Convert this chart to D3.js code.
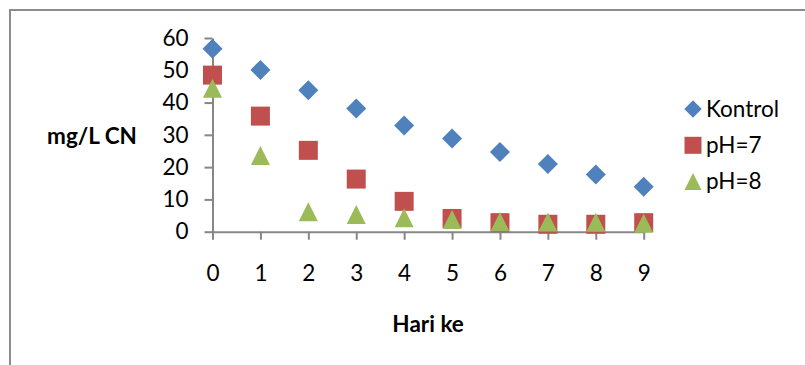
<!DOCTYPE html>
<html>
<head>
<meta charset="utf-8">
<script src="https://cdn.jsdelivr.net/npm/d3@7"></script>
<style>
  html, body { margin: 0; padding: 0; background: #fff; }
  svg { display: block; font-family: Lato, "Open Sans", sans-serif; }
</style>
</head>
<body>
<svg id="chart" width="805" height="365"></svg>
<script>
// Cyanide concentration (mg/L CN) per day for each treatment
const days = [0, 1, 2, 3, 4, 5, 6, 7, 8, 9];
const kontrol = [56.7, 50.1, 43.8, 38.2, 32.9, 28.9, 24.7, 21.0, 17.7, 13.9];
const ph7 = [48.5, 35.8, 25.2, 16.3, 9.4, 4.1, 2.8, 2.3, 2.3, 2.8];
const ph8 = [44.4, 23.6, 6.2, 5.3, 4.3, 3.8, 3.1, 3.0, 2.9, 2.6];
const yTicks = [0, 10, 20, 30, 40, 50, 60];
const seriesNames = ["Kontrol", "pH=7", "pH=8"];
const seriesColors = ["#4F81BD", "#C0504D", "#9BBB59"];
const seriesShapes = ["diamond", "square", "triangle"];

const series = seriesNames.map((name, i) => ({
  name, color: seriesColors[i], shape: seriesShapes[i],
  values: [kontrol, ph7, ph8][i]
}));

const svg = d3.select("#chart");
const axisColor = "#878787";
const fontSize = 22.5;

// Chart frame
svg.append("path")
  .attr("d", "M10,366 L10,10 L806,10")
  .attr("fill", "none")
  .attr("stroke", "#8c8c8c")
  .attr("stroke-width", 2);

const x = d3.scaleLinear().domain([0, 9]).range([212.5, 643.7]);
const y = d3.scaleLinear().domain([0, 60]).range([231.7, 38]);

// Marker path generators, centred at 0,0
function markerPath(shape, s) {
  const h = s / 2;
  if (shape === "diamond") return `M0,${-h}L${h},0L0,${h}L${-h},0Z`;
  if (shape === "square") return `M${-h},${-h}H${h}V${h}H${-h}Z`;
  return `M0,${-h}L${h},${h}H${-h}Z`;
}

// Y axis
const yAxis = svg.append("g")
  .attr("transform", `translate(${x(0)},0)`)
  .call(d3.axisLeft(y).tickValues(yTicks).tickSize(8).tickPadding(16).tickSizeOuter(0));
yAxis.select(".domain").attr("stroke", axisColor).attr("stroke-width", 2);
yAxis.selectAll(".tick line").attr("stroke", axisColor).attr("stroke-width", 2);
yAxis.selectAll(".tick text")
  .attr("fill", "#000").attr("font-size", fontSize).attr("font-family", "Lato, sans-serif");

// X axis
const xAxis = svg.append("g")
  .attr("transform", `translate(0,${y(0)})`)
  .call(d3.axisBottom(x).tickValues(days).tickFormat(d3.format("d")).tickSize(8).tickPadding(25).tickSizeOuter(0));
xAxis.select(".domain").attr("stroke", axisColor).attr("stroke-width", 2);
xAxis.selectAll(".tick line").attr("stroke", axisColor).attr("stroke-width", 2);
xAxis.selectAll(".tick text")
  .attr("fill", "#000").attr("font-size", fontSize).attr("font-family", "Lato, sans-serif");

// Markers
const sizes = { diamond: 20, square: 19, triangle: 19 };
series.forEach(s => {
  svg.append("g").selectAll("path")
    .data(s.values.map((v, i) => [days[i], v]))
    .join("path")
    .attr("d", markerPath(s.shape, sizes[s.shape]))
    .attr("transform", d => `translate(${x(d[0])},${y(d[1])})`)
    .attr("fill", s.color);
});

// Axis titles
svg.append("text")
  .attr("x", 92).attr("y", 144)
  .attr("text-anchor", "middle")
  .attr("font-size", fontSize).attr("font-weight", "bold")
  .text("mg/L CN");

svg.append("text")
  .attr("x", (x(0) + x(9)) / 2).attr("y", 332)
  .attr("text-anchor", "middle")
  .attr("font-size", fontSize).attr("font-weight", "bold")
  .text("Hari ke");

// Legend
const legend = svg.append("g").attr("transform", "translate(693,109)");
const legendItems = legend.selectAll("g")
  .data(series)
  .join("g")
  .attr("transform", (d, i) => `translate(0,${i * 36.3})`);
legendItems.append("path")
  .attr("d", d => markerPath(d.shape, d.shape === "diamond" ? 17.5 : 17))
  .attr("fill", d => d.color);
legendItems.append("text")
  .attr("x", 13).attr("y", 7.5)
  .attr("font-size", fontSize)
  .text(d => d.name);
</script>
</body>
</html>
